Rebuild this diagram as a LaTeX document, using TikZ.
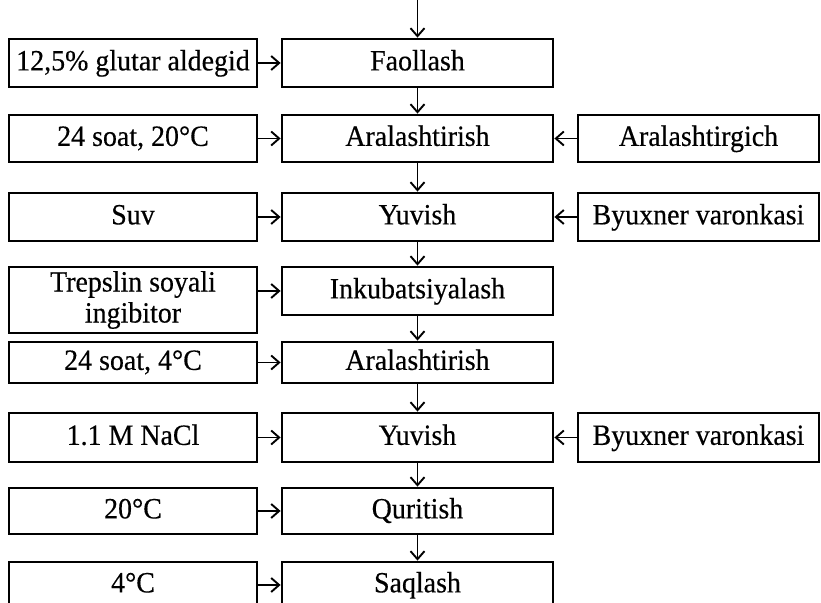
\documentclass[tikz,border=0pt]{standalone}
\usepackage{fontspec}
\setmainfont{Liberation Serif}[FakeStretch=0.95,FakeBold=0.4]
\usetikzlibrary{arrows.meta}
\begin{document}
\begin{tikzpicture}[x=0.5pt,y=-0.5pt,
  basebox/.style={draw, line width=1.4pt, inner sep=0pt, font=\fontsize{14.7}{15.5}\selectfont, align=center},
  box/.style={basebox, text height=10.5pt, text depth=3.1pt},
  leftbox/.style={box, minimum width=124pt},
  midbox/.style={box, minimum width=135.5pt},
  rightbox/.style={box, minimum width=120.5pt},
  flow/.style={line width=0.95pt, -{Straight Barb[length=4pt,width=7pt,line width=0.95pt]}}
]
\useasboundingbox (0,0) rectangle (821,603);
\clip (0,0) rectangle (821,603);

% row 1
\node[leftbox, minimum height=24pt] (l1) at (133,63) {12,5\% glutar aldegid};
\node[midbox, minimum height=24pt] (m1) at (417.5,63) {Faollash};
% row 2
\node[leftbox, minimum height=23.5pt] (l2) at (133,138.5) {24 soat, 20°C};
\node[midbox, minimum height=23.5pt] (m2) at (417.5,138.5) {Aralashtirish};
\node[rightbox, minimum height=23.5pt] (r2) at (698.5,138.5) {Aralashtirgich};
% row 3
\node[leftbox, minimum height=24pt] (l3) at (133,217) {Suv};
\node[midbox, minimum height=24pt] (m3) at (417.5,217) {Yuvish};
\node[rightbox, minimum height=24pt] (r3) at (698.5,217) {Byuxner varonkasi};
% row 4
\node[basebox, minimum width=124pt, minimum height=33pt] (l4) at (133,300) {Trepslin soyali\\ingibitor};
\node[midbox, minimum height=24pt] (m4) at (417.5,291) {Inkubatsiyalash};
% row 5
\node[leftbox, minimum height=20.5pt] (l5) at (133,362.5) {24 soat, 4°C};
\node[midbox, minimum height=20.5pt] (m5) at (417.5,362.5) {Aralashtirish};
% row 6
\node[leftbox, minimum height=24.5pt] (l6) at (133,437.5) {1.1 M NaCl};
\node[midbox, minimum height=24.5pt] (m6) at (417.5,437.5) {Yuvish};
\node[rightbox, minimum height=24.5pt] (r6) at (698.5,437.5) {Byuxner varonkasi};
% row 7
\node[leftbox, minimum height=23pt] (l7) at (133,511) {20°C};
\node[midbox, minimum height=23pt] (m7) at (417.5,511) {Quritish};
% row 8 (runs past the lower edge)
\node[leftbox, minimum height=23pt] (l8) at (133,585) {4°C};
\node[midbox, minimum height=23pt] (m8) at (417.5,585) {Saqlash};

% main vertical flow
\coordinate (start) at (417.5,0);
\draw[flow] (start) -- (m1.north);
\foreach \a/\b in {m1/m2,m2/m3,m3/m4,m4/m5,m5/m6,m6/m7,m7/m8}
  \draw[flow] (\a.south) -- (\b.north);

% inputs from the left
\foreach \i in {1,...,8}
  \draw[flow] (l\i.east |- m\i.west) -- (m\i.west);

% inputs from the right
\foreach \i in {2,3,6}
  \draw[flow] (r\i.west) -- (m\i.east);
\end{tikzpicture}
\end{document}
